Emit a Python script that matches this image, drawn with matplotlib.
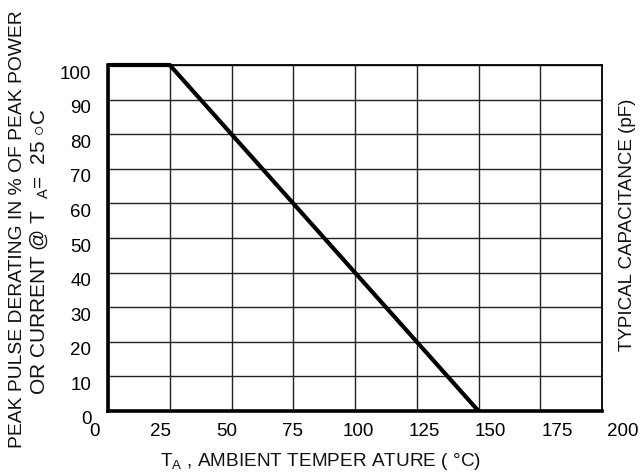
import matplotlib
matplotlib.use("Agg")
import matplotlib.pyplot as plt
import matplotlib.transforms as mtransforms

plt.rcParams['font.family'] = ['Liberation Sans', 'DejaVu Sans']
plt.rcParams['mathtext.fontset'] = 'custom'
plt.rcParams['mathtext.rm'] = 'Liberation Sans'

# ---- data ----
temp_c = [0, 25, 150]          # ambient temperature (°C)
derating_pct = [100, 100, 0]   # peak pulse derating (%)
x_ticks = [0, 25, 50, 75, 100, 125, 150, 175, 200]
x_labels = ["0", "25", "50", "75", "100", "125", "150", "175", "200"]
y_ticks = [0, 10, 20, 30, 40, 50, 60, 70, 80, 90, 100]
y_labels = ["0", "10", "20", "30", "40", "50", "60", "70", "80", "90", "100"]

W, H = 640, 476
fig = plt.figure(figsize=(W / 100, H / 100), dpi=100)

L, R, T, B = 108, 602, 65, 411
ax = fig.add_axes([L / W, 1 - B / H, (R - L) / W, (B - T) / H])
ax.set_xlim(0, 200)
ax.set_ylim(0, 100)
ax.set_xticks(x_ticks)
ax.set_yticks(y_ticks)
ax.grid(True, color='#222222', linewidth=1.0)
ax.set_axisbelow(True)
ax.tick_params(axis='both', length=0)
ax.set_xticklabels([])
ax.set_yticklabels(y_labels, fontsize=13.5, color='black')
ax.tick_params(axis='y', pad=12)
off = mtransforms.ScaledTranslation(0, -7 / 100, fig.dpi_scale_trans)
for lab in ax.get_yticklabels():
    lab.set_transform(lab.get_transform() + off)

for side in ['left', 'bottom']:
    ax.spines[side].set_linewidth(2.6)
for side in ['top', 'right']:
    ax.spines[side].set_linewidth(1.3)

ax.plot(temp_c, derating_pct, color='black', linewidth=3.0,
        solid_capstyle='butt', clip_on=False, zorder=5)

# x tick labels on their own (wider) scale, as in the reference
LX0, LX1 = 94, 623
ax2 = fig.add_axes([LX0 / W, 1 - B / H, (LX1 - LX0) / W, 0.001])
ax2.set_xlim(0, 200)
ax2.set_xticks(x_ticks)
ax2.set_xticklabels(x_labels, fontsize=13.5, color='black')
ax2.tick_params(axis='x', length=0, pad=9)
ax2.set_yticks([])
for s in ax2.spines.values():
    s.set_visible(False)
ax2.patch.set_visible(False)

# axis titles
fig.text(17.5 / W, 1 - 229 / H, "PEAK PULSE DERATING IN % OF PEAK POWER",
         rotation=90, ha='center', va='center', fontsize=13.9, color='#111111')
fig.text(40 / W, 1 - 251.5 / H,
         r"OR CURRENT @ T  $_{\mathregular{A}}$=  25 $\circ$C",
         rotation=90, ha='center', va='center', fontsize=15, color='#111111')
fig.text(321 / W, 1 - 462 / H, r"T$_{\mathregular{A}}$ , AMBIENT TEMPER ATURE ( °C)",
         ha='center', va='center', fontsize=13.7, color='#111111')
fig.text(628 / W, 1 - 225 / H, "TYPICAL CAPACITANCE (pF)",
         rotation=90, ha='center', va='center', fontsize=13.5, color='#111111')

fig.savefig("out.png", dpi=100)
